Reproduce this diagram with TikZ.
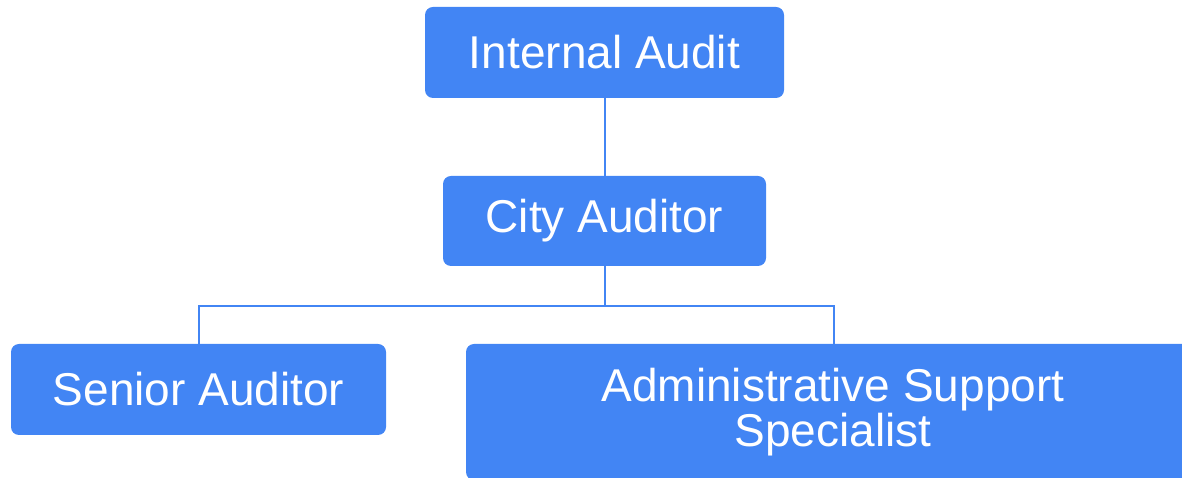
\documentclass[tikz,border=0pt]{standalone}
\usepackage{fontspec}
\setmainfont{Liberation Sans}
\definecolor{gblue}{HTML}{4285F4}
\begin{document}
\begin{tikzpicture}[x=1pt,y=1pt,
  box/.style={fill=gblue,draw=none,rounded corners=8pt,text=white,font=\fontsize{46}{48}\selectfont,align=center,inner sep=0pt},
  conn/.style={draw=gblue,line width=2pt}]
\useasboundingbox (0,0) rectangle (1182,478);
\clip (0,0) rectangle (1182,478);
\node[box,minimum width=359pt,minimum height=91pt] (ia) at (604.5,425.5) {Internal Audit};
\node[box,minimum width=323pt,minimum height=90pt] (ca) at (604.5,257) {City Auditor};
\node[box,minimum width=375pt,minimum height=91pt] (sa) at (198.5,88.5) {Senior Auditor};
\node[box,minimum width=734pt,minimum height=136pt] (as) at (833,66) {Administrative Support\\[-3pt]Specialist};
\coordinate (j) at (604.5,172);
\draw[conn] (ia.south) -- (ca.north);
\draw[conn] (ca.south) -- (j);
\draw[conn] (sa.north -| 199,0) |- (j) -| (as.north -| 834,0);
\end{tikzpicture}
\end{document}
